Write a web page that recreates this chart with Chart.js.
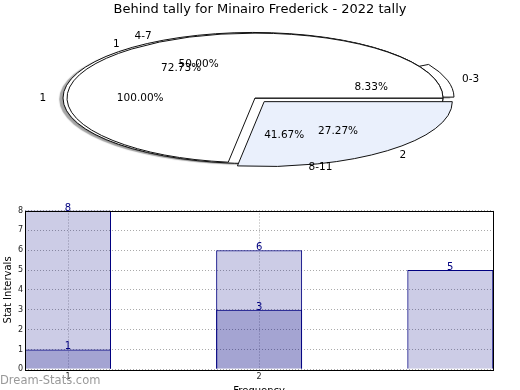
<!DOCTYPE html>
<html>
<head>
<meta charset="utf-8">
<script src="https://cdn.jsdelivr.net/npm/chart.js@4"></script>
<style>
    html, body { margin: 0; padding: 0; background: #fff; width: 520px; height: 390px; overflow: hidden; position: relative; }
    .box { position: absolute; left: 0; width: 520px; height: 200px; }
</style>
</head>
<body>
<div class="box" style="top:0"><canvas id="pieChart" width="520" height="200"></canvas></div>
<div class="box" style="top:200px"><canvas id="barChart" width="520" height="200"></canvas></div>
<script>
// Tally data
const chartTitle = 'Behind tally for Minairo Frederick - 2022 tally';

const roundLabels = ['1', '2'];
const roundCounts = [8, 3];
const rangeLabels = ['0-3', '4-7', '8-11'];
const rangeCounts = [1, 6, 5];
const singleLabels = ['1'];
const singleCounts = [1];

const freqValues = [1, 2, 3];
const totalTally = [8, 6, 5];
const behindTally = [1, 3];
const freqTicks = [1, 2];

Chart.defaults.font.family = '"DejaVu Sans", sans-serif';
Chart.defaults.color = '#000';

const PIE_RADIUS = 188;
const SQUASH = 0.345;

// dataset 0 is drawn last (on top)
const pieLayers = [
    { labels: roundLabels, counts: roundCounts, colors: ['#ffffff', '#eaf0fc'], explode: [0, 56], shadow: false },
    { labels: singleLabels, counts: singleCounts, colors: ['#ffffff'], explode: [8], shadow: true },
    { labels: rangeLabels, counts: rangeCounts, colors: ['#ffffff', '#ffffff', '#ffffff'], explode: [30, 0, 0], shadow: true },
];

const flatPie = {
    id: 'flatPie',
    afterDatasetsUpdate(chart) {
        // let every layer use the full radius so the pies overlap
        chart.data.datasets.forEach((ds, i) => {
            chart.getDatasetMeta(i).data.forEach(arc => {
                arc.innerRadius = 0;
                arc.outerRadius = PIE_RADIUS;
            });
        });
    },
    beforeDatasetsDraw(chart) {
        const ctx = chart.ctx;
        const arc = chart.getDatasetMeta(0).data[0];
        const base = ctx.getTransform();
        ctx.save();
        ctx.translate(arc.x, arc.y);
        ctx.scale(1, -SQUASH);
        ctx.translate(-arc.x, -arc.y);
        const stroke = CanvasRenderingContext2D.prototype.stroke;
        ctx.stroke = function () {
            this.save();
            this.setTransform(base);
            this.shadowColor = 'rgba(0,0,0,0)';
            stroke.call(this);
            this.restore();
        };
    },
    beforeDatasetDraw(chart, args) {
        const ctx = chart.ctx;
        if (pieLayers[args.index].shadow) {
            ctx.shadowColor = 'rgba(77,77,77,0.5)';
            ctx.shadowOffsetX = -3.8;
            ctx.shadowOffsetY = 1.3;
            ctx.shadowBlur = 1;
        }
    },
    afterDatasetDraw(chart) {
        chart.ctx.shadowColor = 'rgba(0,0,0,0)';
    },
    afterDatasetsDraw(chart) {
        delete chart.ctx.stroke;
        chart.ctx.restore();
    },
    afterDraw(chart) {
        const ctx = chart.ctx;
        ctx.save();
        ctx.fillStyle = '#000';
        ctx.font = '13px "DejaVu Sans"';
        ctx.textAlign = 'center';
        ctx.textBaseline = 'middle';
        ctx.fillText(chartTitle, chart.width / 2, 10);

        ctx.font = '10.5px "DejaVu Sans"';
        pieLayers.forEach((layer, i) => {
            const total = layer.counts.reduce((a, b) => a + b, 0);
            chart.getDatasetMeta(i).data.forEach((arc, j) => {
                const mid = (arc.startAngle + arc.endAngle) / 2;
                const shift = layer.explode[j] / 4;
                const at = d => [arc.x + Math.cos(mid) * d, arc.y - SQUASH * Math.sin(mid) * d];
                let [px, py] = at(shift + 0.6 * arc.outerRadius);
                ctx.textAlign = 'center';
                ctx.fillText((layer.counts[j] / total * 100).toFixed(2) + '%', px, py);
                [px, py] = at(shift + 1.1 * arc.outerRadius);
                ctx.textAlign = Math.cos(mid) > 0 ? 'left' : 'right';
                ctx.fillText(layer.labels[j], px, py);
            });
        });
        ctx.restore();
    }
};

new Chart(document.getElementById('pieChart'), {
    type: 'pie',
    data: {
        datasets: pieLayers.map(layer => ({
            data: layer.counts,
            backgroundColor: layer.colors,
            offset: layer.explode,
            borderColor: '#111',
            borderWidth: 1,
            clip: false,
        }))
    },
    options: {
        responsive: false,
        animation: false,
        events: [],
        radius: PIE_RADIUS,
        rotation: 90,
        layout: { padding: { left: 0, right: 10, top: 0, bottom: 4 } },
        plugins: { legend: { display: false }, tooltip: { enabled: false } }
    },
    plugins: [flatPie]
});

const barExtras = {
    id: 'barExtras',
    afterDraw(chart) {
        const ctx = chart.ctx;
        const a = chart.chartArea;
        ctx.save();
        // value labels
        ctx.fillStyle = '#000080';
        ctx.font = '10px "DejaVu Sans"';
        ctx.textAlign = 'center';
        ctx.textBaseline = 'alphabetic';
        chart.data.datasets.forEach((ds, i) => {
            chart.getDatasetMeta(i).data.forEach((bar, j) => {
                ctx.fillText(String(ds.data[j].y), bar.x, bar.y);
            });
        });
        // frame
        ctx.strokeStyle = '#000';
        ctx.lineWidth = 1;
        ctx.strokeRect(Math.round(a.left) + 0.5, Math.round(a.top) + 0.5,
            Math.round(a.right - a.left), Math.round(a.bottom - a.top));
        // watermark
        ctx.fillStyle = '#999';
        ctx.font = '11.5px "DejaVu Sans"';
        ctx.textAlign = 'left';
        ctx.fillText('Dream-Stats.com', 0, 184);
        ctx.restore();
    }
};

const barFill = 'rgba(0,0,128,0.2)';

new Chart(document.getElementById('barChart'), {
    type: 'bar',
    data: {
        datasets: [
            {
                data: freqValues.map((x, i) => ({ x, y: totalTally[i] })),
                backgroundColor: barFill, borderColor: '#000080', borderWidth: 1,
            },
            {
                data: behindTally.map((y, i) => ({ x: freqValues[i], y })),
                backgroundColor: barFill, borderColor: '#000080', borderWidth: 1,
            }
        ]
    },
    options: {
        responsive: false,
        animation: false,
        events: [],
        datasets: { bar: { grouped: false, barPercentage: 0.45, categoryPercentage: 1 } },
        layout: { padding: { left: 0, right: 26.7, top: 10.5, bottom: 0 } },
        scales: {
            x: {
                type: 'linear', min: 0.775, max: 3.225, offset: false,
                afterBuildTicks: s => { s.ticks = freqTicks.map(v => ({ value: v })); },
                afterFit: s => { s.height = 30.7; },
                grid: { color: '#aaa', drawTicks: false, offset: false },
                border: { display: false, dash: [1, 2] },
                ticks: { padding: 3, font: { size: 8 }, color: '#222' },
                title: { display: true, text: 'Frequency', font: { size: 10 }, padding: { top: 0, bottom: 3 } }
            },
            y: {
                min: 0, max: 8,
                afterFit: s => { s.width = 25; },
                grid: { color: '#aaa', drawTicks: false },
                border: { display: false, dash: [1, 2] },
                ticks: { stepSize: 1, padding: 2, font: { size: 8 }, color: '#222' },
                title: { display: true, text: 'Stat Intervals', font: { size: 10 }, padding: { top: 2, bottom: 0 } }
            }
        },
        plugins: { legend: { display: false }, tooltip: { enabled: false } }
    },
    plugins: [barExtras]
});
</script>
</body>
</html>
